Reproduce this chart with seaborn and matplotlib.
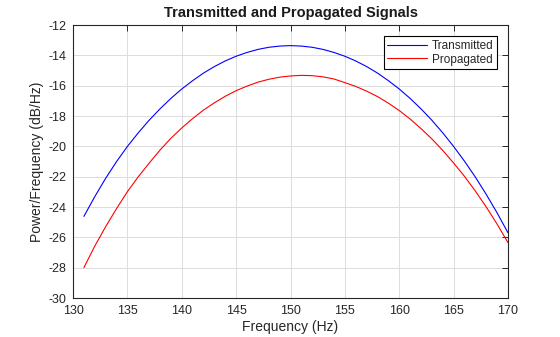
import matplotlib
matplotlib.use("Agg")
import matplotlib.pyplot as plt
import seaborn as sns
import pandas as pd

freq = [131, 132, 133, 134, 135, 136, 137, 138, 139, 140,
        141, 142, 143, 144, 145, 146, 147, 148, 149, 150,
        151, 152, 153, 154, 155, 156, 157, 158, 159, 160,
        161, 162, 163, 164, 165, 166, 167, 168, 169, 170]

transmitted = [-24.62, -23.32, -22.11, -21.01, -20.01, -19.11, -18.28, -17.53, -16.84, -16.22,
               -15.67, -15.17, -14.74, -14.37, -14.06, -13.81, -13.61, -13.47, -13.39, -13.36,
               -13.39, -13.47, -13.61, -13.81, -14.06, -14.37, -14.74, -15.17, -15.67, -16.22,
               -16.84, -17.53, -18.28, -19.11, -20.01, -20.98, -22.03, -23.17, -24.39, -25.70]

propagated = [-28.00, -26.58, -25.30, -24.11, -22.99, -22.01, -21.11, -20.25, -19.47, -18.79,
              -18.17, -17.61, -17.13, -16.70, -16.33, -16.03, -15.77, -15.58, -15.44, -15.36,
              -15.32, -15.34, -15.42, -15.56, -15.80, -16.05, -16.36, -16.72, -17.15, -17.64,
              -18.20, -18.83, -19.51, -20.27, -21.10, -21.98, -22.95, -24.00, -25.13, -26.35]

series_names = ["Transmitted", "Propagated"]
series_colors = ["#0000ff", "#ff0000"]
x_ticks = [130, 135, 140, 145, 150, 155, 160, 165, 170]
y_ticks = [-30, -28, -26, -24, -22, -20, -18, -16, -14, -12]

df = pd.concat([
    pd.DataFrame({"Frequency": freq, "Power": transmitted, "Signal": series_names[0]}),
    pd.DataFrame({"Frequency": freq, "Power": propagated, "Signal": series_names[1]}),
], ignore_index=True)

sns.set_style("white")
plt.rcParams["font.family"] = ["Liberation Sans", "DejaVu Sans"]

fig = plt.figure(figsize=(5.6, 3.37), dpi=100)
ax = fig.add_axes([73 / 560, 1 - 298 / 337, 435 / 560, 273 / 337])

sns.lineplot(data=df, x="Frequency", y="Power", hue="Signal",
             hue_order=series_names, palette=series_colors,
             linewidth=0.8, ax=ax, legend=True)

ax.set_xlim(130, 170)
ax.set_ylim(-30, -12)
ax.set_xticks(x_ticks)
ax.set_yticks(y_ticks)
ax.set_xticklabels([str(t) for t in x_ticks])
ax.set_yticklabels([str(t) for t in y_ticks])

dark = "#262626"
ax.grid(True, color="#dcdcdc", linewidth=0.7)
ax.set_axisbelow(True)
for sp in ax.spines.values():
    sp.set_visible(True)
    sp.set_color(dark)
    sp.set_linewidth(0.8)
ax.tick_params(direction="in", top=True, right=True, length=4, width=0.7,
               colors=dark, labelsize=9, pad=5)

ax.set_xlabel("Frequency (Hz)", fontsize=10, color=dark, labelpad=2)
ax.set_ylabel("Power/Frequency (dB/Hz)", fontsize=10, color=dark, labelpad=3)
ax.set_title("Transmitted and Propagated Signals", fontsize=10.5,
             fontweight="bold", color="#1a1a1a", pad=6)

handles, labels = ax.get_legend_handles_labels()
leg = ax.legend(handles, labels, loc="upper right", fontsize=8.5,
                frameon=True, fancybox=False, edgecolor="black",
                framealpha=1, borderaxespad=0.95, handlelength=3.4,
                handletextpad=0.35, borderpad=0.3, labelspacing=0.15)
leg.get_frame().set_linewidth(0.8)

fig.savefig("out.png", dpi=100)
